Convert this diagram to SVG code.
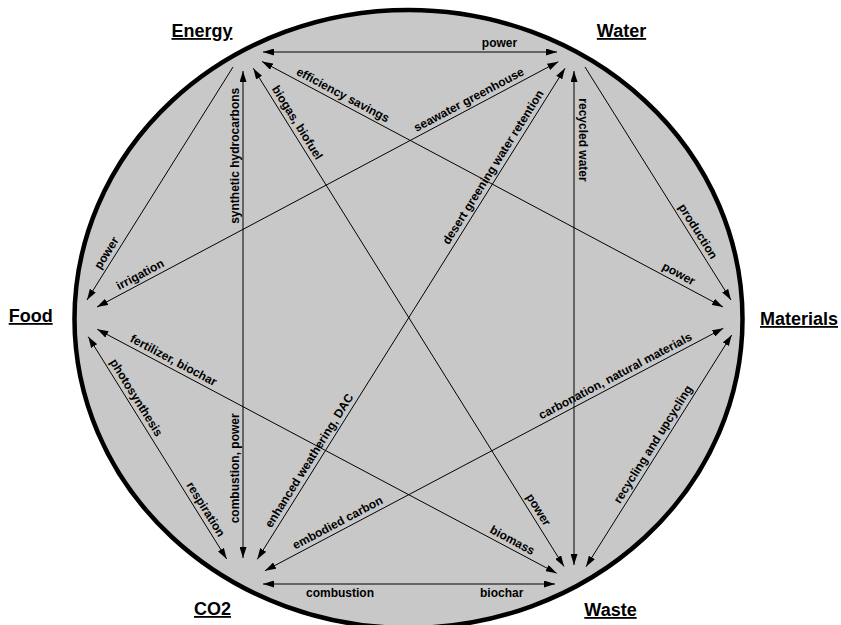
<svg xmlns="http://www.w3.org/2000/svg" width="841" height="625" viewBox="0 0 841 625">
<defs>
<style>
.node{font-family:"Liberation Sans",Arial,Helvetica,sans-serif;font-weight:bold;font-size:18px;fill:#000;text-anchor:middle;text-decoration:underline}
.lbl{font-family:"Liberation Sans",Arial,Helvetica,sans-serif;font-weight:bold;font-size:12px;fill:#000;text-anchor:middle}
.ln{stroke:#000;stroke-width:1;fill:none}
.bi{marker-start:url(#ah);marker-end:url(#ah)}
.uni{marker-end:url(#ah)}
</style>
<marker id="ah" markerUnits="userSpaceOnUse" markerWidth="11" markerHeight="7" viewBox="0 0 11 7" refX="11" refY="3.5" orient="auto-start-reverse">
<path d="M0,0 L11,3.5 L0,7 z" fill="#000"/>
</marker>
</defs>
<ellipse id="circle" cx="408.5" cy="319" rx="334" ry="309" fill="#c8c8c8" stroke="#000" stroke-width="4.5"/>
<g id="connectors">
<line class="ln bi" x1="263" y1="52" x2="557" y2="52"/>
<line class="ln uni" x1="233" y1="67" x2="87" y2="300"/>
<line class="ln bi" x1="262" y1="61.5" x2="723" y2="307"/>
<line class="ln bi" x1="243" y1="71" x2="243" y2="558"/>
<line class="ln bi" x1="253.3" y1="68.3" x2="564" y2="566.5"/>
<line class="ln bi" x1="558.3" y1="61.7" x2="97" y2="307"/>
<line class="ln uni" x1="585" y1="67" x2="731" y2="300"/>
<line class="ln bi" x1="565" y1="68.3" x2="257.3" y2="559.3"/>
<line class="ln bi" x1="574" y1="71" x2="574" y2="565"/>
<line class="ln bi" x1="88.3" y1="336.7" x2="226.7" y2="559"/>
<line class="ln bi" x1="97.3" y1="329.3" x2="556.7" y2="573.3"/>
<line class="ln bi" x1="723.3" y1="328.3" x2="265" y2="570.7"/>
<line class="ln bi" x1="731.7" y1="335" x2="586" y2="566.7"/>
<line class="ln bi" x1="263" y1="584" x2="555" y2="584"/>
<text class="lbl" x="499.5" y="47">power</text>
<text class="lbl" transform="translate(338.9,102.4) rotate(28)" y="-4.5">efficiency savings</text>
<text class="lbl" transform="translate(674.7,281.2) rotate(28)" y="-4.5">power</text>
<text class="lbl" transform="translate(113.7,257.5) rotate(-57.9)" y="-4.5">power</text>
<text class="lbl" transform="translate(144.1,282) rotate(-28)" y="-4.5">irrigation</text>
<text class="lbl" transform="translate(472.9,107.1) rotate(-28)" y="-4.5">seawater greenhouse</text>
<text class="lbl" transform="translate(243,155.8) rotate(-90)" y="-4.5">synthetic hydrocarbons</text>
<text class="lbl" transform="translate(243,468.3) rotate(-90)" y="-4.5">combustion, power</text>
<text class="lbl" transform="translate(290,127.1) rotate(58)" y="-4.5">biogas, biofuel</text>
<text class="lbl" transform="translate(531.4,514.2) rotate(58)" y="-4.5">power</text>
<text class="lbl" transform="translate(690.8,235.9) rotate(57.9)" y="-4.5">production</text>
<text class="lbl" transform="translate(574,140) rotate(90)" y="-4.5">recycled water</text>
<text class="lbl" transform="translate(500.2,171.7) rotate(-57.9)" y="-4.5">desert greening water retention</text>
<text class="lbl" transform="translate(316.3,465.2) rotate(-57.9)" y="-4.5">enhanced weathering, DAC</text>
<text class="lbl" transform="translate(198.5,513.7) rotate(58.1)" y="-4.5">respiration</text>
<text class="lbl" transform="translate(129,402.1) rotate(58.1)" y="-4.5">photosynthesis</text>
<text class="lbl" transform="translate(169.6,367.7) rotate(28)" y="-4.5">fertilizer, biochar</text>
<text class="lbl" transform="translate(508.4,547.7) rotate(28)" y="-4.5">biomass</text>
<text class="lbl" transform="translate(619.2,383.4) rotate(-27.9)" y="-4.5">carbonation, natural materials</text>
<text class="lbl" transform="translate(341.6,530.2) rotate(-27.9)" y="-4.5">embodied carbon</text>
<text class="lbl" transform="translate(660.2,448.7) rotate(-57.8)" y="-4.5">recycling and upcycling</text>
<text class="lbl" x="340" y="596.5">combustion</text>
<text class="lbl" x="501.7" y="596.5">biochar</text>
</g>
<g id="node-energy"><text class="node" x="202" y="37">Energy</text></g>
<g id="node-water"><text class="node" x="621.5" y="37">Water</text></g>
<g id="node-food"><text class="node" x="30.7" y="322">Food</text></g>
<g id="node-materials"><text class="node" x="799" y="325">Materials</text></g>
<g id="node-co2"><text class="node" x="212.5" y="615">CO2</text></g>
<g id="node-waste"><text class="node" x="610.5" y="616">Waste</text></g>
</svg>
